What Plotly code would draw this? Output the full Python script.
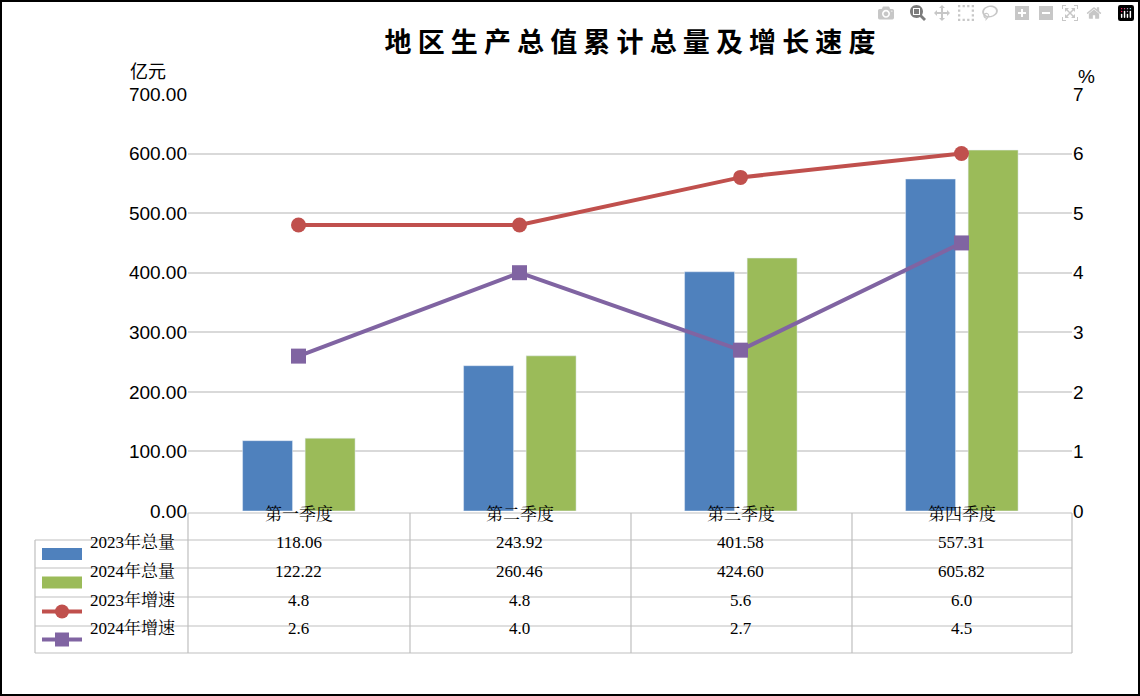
import plotly.graph_objects as go

categories = ["第一季度", "第二季度", "第三季度", "第四季度"]
total_2023 = [118.06, 243.92, 401.58, 557.31]
total_2024 = [122.22, 260.46, 424.60, 605.82]
growth_2023 = [4.8, 4.8, 5.6, 6.0]
growth_2024 = [2.6, 4.0, 2.7, 4.5]
series_names = ["2023年总量", "2024年总量", "2023年增速", "2024年增速"]
left_ticks = [0, 100, 200, 300, 400, 500, 600, 700]
right_ticks = [0, 1, 2, 3, 4, 5, 6, 7]

BLUE = "#4f81bd"; GREEN = "#9bbb59"; RED = "#c0504d"; PURPLE = "#8064a2"
W, H = 1140, 696
L, R, T, B = 188, 1072, 94, 511

def px(x): return (x - L) / (R - L)
def py(y): return (B - y) / (B - T)

xs = list(range(len(categories)))
fig = go.Figure()
fig.add_bar(x=xs, y=total_2023, width=0.226, offset=-0.253, marker_color=BLUE, name=series_names[0])
fig.add_bar(x=xs, y=total_2024, width=0.226, offset=0.03, marker_color=GREEN, name=series_names[1])
fig.add_scatter(x=xs, y=growth_2023, yaxis="y2", mode="lines+markers", line=dict(color=RED, width=4),
                marker=dict(symbol="circle", size=15, color=RED), name=series_names[2])
fig.add_scatter(x=xs, y=growth_2024, yaxis="y2", mode="lines+markers", line=dict(color=PURPLE, width=4),
                marker=dict(symbol="square", size=15, color=PURPLE), name=series_names[3])

tickfont = dict(family="Liberation Sans, Arial", size=19, color="#000")
fig.update_layout(
    width=W, height=H, margin=dict(l=L, r=W - R, t=T, b=H - B),
    paper_bgcolor="white", plot_bgcolor="white", showlegend=False,
    xaxis=dict(range=[-0.5, 3.5], showticklabels=False, showgrid=False, zeroline=False),
    yaxis=dict(range=[0, 700], tickvals=left_ticks, ticktext=[f"{v:.2f}" for v in left_ticks],
               gridcolor="#d9d9d9", gridwidth=1.5, zeroline=False, tickfont=tickfont, ticks="", ticklen=0),
    yaxis2=dict(range=[0, 7], tickvals=right_ticks, overlaying="y", side="right", showgrid=False,
                zeroline=False, tickfont=tickfont),
    title=dict(text="<b>地 区 生 产 总 值 累 计 总 量 及 增 长 速 度</b>", x=0.5, xref="paper", y=0.952,
               font=dict(family="Noto Sans CJK SC", size=27, color="#000")),
)

shapes = []
line = dict(color="#bfbfbf", width=1.2)
row_y = [513, 540, 568, 597, 626, 653]
shapes.append(dict(type="line", xref="paper", yref="paper", x0=px(L), x1=px(R), y0=py(row_y[0]), y1=py(row_y[0]), line=line))
for y in row_y[1:]:
    shapes.append(dict(type="line", xref="paper", yref="paper", x0=px(35), x1=px(R), y0=py(y), y1=py(y), line=line))
col_x = [L, 410, 631, 852, R]
for x in col_x:
    shapes.append(dict(type="line", xref="paper", yref="paper", x0=px(x), x1=px(x), y0=py(row_y[0]), y1=py(row_y[-1]), line=line))
shapes.append(dict(type="line", xref="paper", yref="paper", x0=px(35), x1=px(35), y0=py(row_y[1]), y1=py(row_y[-1]), line=line))
shapes.append(dict(type="rect", xref="paper", yref="paper", x0=px(1), x1=px(W - 1), y0=py(H - 1), y1=py(1),
                   line=dict(color="#000", width=2)))

annotations = []
tfont = dict(family="Liberation Serif, Noto Serif CJK SC, serif", size=17, color="#000")
for i, c in enumerate(categories):
    annotations.append(dict(text=c, x=i, xref="x", y=py(526), yref="paper", showarrow=False, font=tfont))
rows = [
    [f"{v:.2f}" for v in total_2023], [f"{v:.2f}" for v in total_2024],
    [f"{v:.1f}" for v in growth_2023], [f"{v:.1f}" for v in growth_2024],
]
colors = [BLUE, GREEN, RED, PURPLE]
for r in range(4):
    yc = (row_y[r + 1] + row_y[r + 2]) / 2
    for i, v in enumerate(rows[r]):
        annotations.append(dict(text=v, x=i, xref="x", y=py(yc), yref="paper", showarrow=False, font=tfont))
    annotations.append(dict(text=series_names[r], x=px(88), xanchor="left", xref="paper", y=py(yc), yref="paper",
                            showarrow=False, font=tfont))
    if r < 2:
        shapes.append(dict(type="rect", xref="paper", yref="paper", x0=px(42), x1=px(82), y0=py(yc + 6), y1=py(yc - 6),
                           fillcolor=colors[r], line=dict(width=0)))
    else:
        shapes.append(dict(type="line", xref="paper", yref="paper", x0=px(42), x1=px(82), y0=py(yc), y1=py(yc),
                           line=dict(color=colors[r], width=4)))
        shapes.append(dict(type="circle" if r == 2 else "rect", xref="paper", yref="paper",
                           x0=px(55), x1=px(69), y0=py(yc + 7), y1=py(yc - 7),
                           fillcolor=colors[r], line=dict(width=0)))

annotations.append(dict(text="亿元", x=px(128), y=py(55), xref="paper", yref="paper", showarrow=False,
                        font=dict(family="Noto Sans CJK SC", size=18, color="#000")))
annotations.append(dict(text="%", x=px(1097), y=py(64), xref="paper", yref="paper", showarrow=False,
                        font=dict(family="Liberation Sans", size=19, color="#000")))
fig.update_layout(shapes=shapes, annotations=annotations)
fig.write_html("out.html", post_script="document.body.style.margin='0';document.body.style.overflow='hidden';")
